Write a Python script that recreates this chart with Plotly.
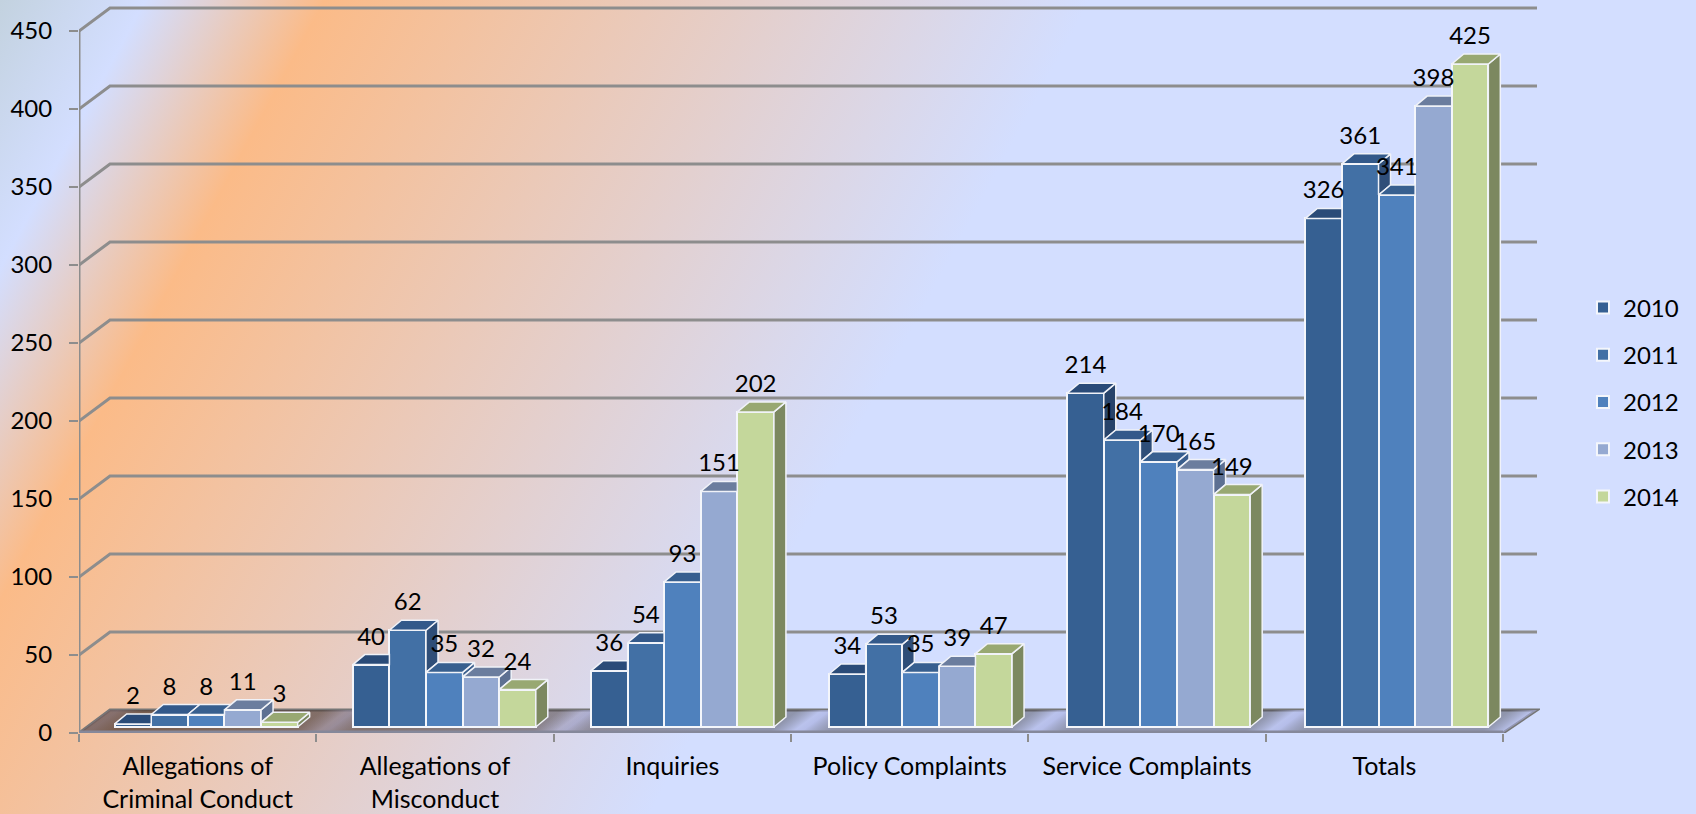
import urllib.parse
import plotly.graph_objects as go

categories = ["Allegations of<br>Criminal Conduct", "Allegations of<br>Misconduct", "Inquiries",
              "Policy Complaints", "Service Complaints", "Totals"]
years = ["2010", "2011", "2012", "2013", "2014"]
v2010 = [2, 40, 36, 34, 214, 326]
v2011 = [8, 62, 54, 53, 184, 361]
v2012 = [8, 35, 93, 35, 170, 341]
v2013 = [11, 32, 151, 39, 165, 398]
v2014 = [3, 24, 202, 47, 149, 425]
series = [v2010, v2011, v2012, v2013, v2014]
front_colors = ["#366092", "#4270a5", "#4f81bd", "#95a9d1", "#c4d79b"]
top_colors = ["#2a4b78", "#33598a", "#375f8f", "#6b7d9e", "#98a872"]
side_colors = ["#27436a", "#2f4e78", "#3a5e8c", "#5d7092", "#7c8860"]
y_ticks = [0, 50, 100, 150, 200, 250, 300, 350, 400, 450]

W, H = 1696, 814
L, R, T, B = 79, 156, 5, 81
PW, PH = W - L - R, H - T - B
PX_X = 1424 / 6       # pixels per category
PX_Y = 702 / 450      # pixels per unit
FONT = "Lato"
GREY = "#8d8d8d"


def dxp(px):
    return px / PX_X


def dyp(px):
    return px / PX_Y


XMIN = -0.5
XMAX = XMIN + PW / PX_X
YMAX = PH / PX_Y
WALL_DX_L, WALL_DX_R, WALL_DY = dxp(31), dxp(34), dyp(23)
BAR_W = dxp(36.6)
BASE = dyp(6)
DEPTH_X, DEPTH_Y = dxp(12), dyp(10)
LABEL_GAP = dyp(26)


def group_center(c):
    # the bars stand on a plane a little behind the axis, so it sits slightly shifted and wider
    return c + dxp(8.5 + 0.8 * c)


bg_svg = (
    '<svg xmlns="http://www.w3.org/2000/svg" width="1696" height="814" viewBox="0 0 1696 814" '
    'preserveAspectRatio="none"><defs><linearGradient id="g" gradientUnits="userSpaceOnUse" '
    'x1="0" y1="0" x2="1654" y2="895">'
    '<stop offset="0" stop-color="#c3d2df"/><stop offset="0.068" stop-color="#d3deff"/>'
    '<stop offset="0.152" stop-color="#fbbb88"/><stop offset="0.51" stop-color="#d3deff"/>'
    '<stop offset="1" stop-color="#d3deff"/></linearGradient></defs>'
    '<rect width="1696" height="814" fill="url(#g)"/></svg>'
)
floor_svg = (
    '<svg xmlns="http://www.w3.org/2000/svg" width="1458" height="23" viewBox="0 0 1458 23" '
    'preserveAspectRatio="none"><defs><linearGradient id="f" gradientUnits="userSpaceOnUse" '
    'spreadMethod="repeat" x1="0" y1="23" x2="84.3" y2="136.6">'
    '<stop offset="0" stop-color="#a9b0e0" stop-opacity="0.6"/>'
    '<stop offset="0.035" stop-color="#a9b0e0" stop-opacity="0.7"/>'
    '<stop offset="0.15" stop-color="#4c4c5a" stop-opacity="0.5"/>'
    '<stop offset="0.9" stop-color="#4c4c5a" stop-opacity="0.5"/>'
    '<stop offset="1" stop-color="#a9b0e0" stop-opacity="0.6"/>'
    '</linearGradient>'
    '<linearGradient id="w" gradientUnits="userSpaceOnUse" x1="0" y1="0" x2="620" y2="0">'
    '<stop offset="0" stop-color="#5e3f2a" stop-opacity="0.62"/>'
    '<stop offset="1" stop-color="#5e3f2a" stop-opacity="0"/></linearGradient></defs>'
    '<polygon points="0,23 31,0 1458,0 1424,23" fill="url(#f)"/>'
    '<polygon points="0,23 31,0 1458,0 1424,23" fill="url(#w)"/></svg>'
)


def uri(s):
    return "data:image/svg+xml," + urllib.parse.quote(s)


images = [
    dict(source=uri(bg_svg), xref="paper", yref="paper", x=-L / PW, y=1 + T / PH,
         sizex=W / PW, sizey=H / PH, xanchor="left", yanchor="top", sizing="stretch", layer="below"),
    dict(source=uri(floor_svg), xref="x", yref="y", x=XMIN, y=WALL_DY,
         sizex=6 + WALL_DX_R, sizey=WALL_DY, xanchor="left", yanchor="top", sizing="stretch", layer="below"),
]

shapes = []
for t in y_ticks:
    back_y = t + WALL_DY
    path = f"M{XMIN},{t} L{XMIN + WALL_DX_L},{back_y} L{5.5 + WALL_DX_R},{back_y}"
    if t == 0:
        path += f" L5.5,0"
    shapes.append(dict(type="path", path=path, xref="x", yref="y", layer="below",
                       line=dict(color=GREY if t else "#767676", width=3)))

fig = go.Figure()

for s, (name, vals) in enumerate(zip(years, series)):
    xs = [group_center(c) + (s - 2) * BAR_W for c in range(len(categories))]
    fig.add_trace(go.Bar(
        x=xs, y=vals, base=[BASE] * len(vals), width=BAR_W, name=name,
        marker=dict(color=front_colors[s], line=dict(color="#f4f6fb", width=2)),
        legendgroup=name, hoverinfo="x+y",
    ))

# axis frame lines (drawn unclipped)
fig.add_trace(go.Scatter(x=[XMIN, XMIN], y=[0, 450], mode="lines", cliponaxis=False, showlegend=False,
                         hoverinfo="skip", line=dict(color=GREY, width=3)))
fig.add_trace(go.Scatter(x=[XMIN, 5.5], y=[0, 0], mode="lines", cliponaxis=False, showlegend=False,
                         hoverinfo="skip", line=dict(color="#85889a", width=5)))

for s, vals in enumerate(series):
    next_vals = series[s + 1] if s + 1 < len(series) else None
    tx, ty, sx, sy = [], [], [], []
    for c, v in enumerate(vals):
        left = group_center(c) + (s - 2.5) * BAR_W
        right = left + BAR_W
        top = BASE + v
        nb = BASE + next_vals[c] if next_vals else None
        # top face, trimmed where the next bar's front covers it
        up = top + DEPTH_Y
        if nb is None or nb <= top:
            poly = [(left, top), (left + DEPTH_X, up), (right + DEPTH_X, up), (right, top)]
        elif nb >= up:
            poly = [(left, top), (left + DEPTH_X, up), (right, up), (right, top)]
        else:
            frac = (nb - top) / DEPTH_Y
            poly = [(left, top), (left + DEPTH_X, up), (right + DEPTH_X, up),
                    (right + frac * DEPTH_X, nb), (right, nb), (right, top)]
        for px, py in poly + [poly[0]]:
            tx.append(px)
            ty.append(py)
        tx.append(None)
        ty.append(None)
        # side face, only the part above the next bar
        low = BASE if nb is None else nb
        if low < top:
            poly = [(right, low), (right + DEPTH_X, low + DEPTH_Y), (right + DEPTH_X, up), (right, top)]
            for px, py in poly + [poly[0]]:
                sx.append(px)
                sy.append(py)
            sx.append(None)
            sy.append(None)
    if sx:
        fig.add_trace(go.Scatter(x=sx, y=sy, mode="lines", fill="toself", fillcolor=side_colors[s],
                                 line=dict(color="#f0f2f8", width=1.5), cliponaxis=False,
                                 showlegend=False, hoverinfo="skip"))
    fig.add_trace(go.Scatter(x=tx, y=ty, mode="lines", fill="toself", fillcolor=top_colors[s],
                             line=dict(color="#f0f2f8", width=1.5), cliponaxis=False,
                             showlegend=False, hoverinfo="skip"))

for s, vals in enumerate(series):
    xs = [group_center(c) + (s - 2) * BAR_W for c in range(len(categories))]
    fig.add_trace(go.Scatter(
        x=xs, y=[BASE + v + LABEL_GAP for v in vals], mode="text", text=[str(v) for v in vals],
        textposition="middle center", textfont=dict(family=FONT, size=24, color="#000000"),
        cliponaxis=False, showlegend=False, hoverinfo="skip",
    ))

fig.update_layout(
    width=W, height=H, autosize=False,
    margin=dict(l=L, r=R, t=T, b=B, pad=0, autoexpand=False),
    paper_bgcolor="rgba(0,0,0,0)", plot_bgcolor="rgba(0,0,0,0)",
    barmode="overlay", bargap=0,
    images=images, shapes=shapes,
    font=dict(family=FONT, size=24, color="#000000"),
    legend=dict(x=(1583 - L) / PW, xanchor="left", y=(H - B - 402) / PH, yanchor="middle",
                tracegroupgap=13, itemclick=False, itemdoubleclick=False,
                font=dict(family=FONT, size=24, color="#000000"), bgcolor="rgba(0,0,0,0)"),
    xaxis=dict(type="linear", range=[XMIN, XMAX], showgrid=False, zeroline=False, showline=False,
               automargin=False,
               tickmode="array", tickvals=list(range(len(categories))), ticktext=categories,
               ticks="", ticklabelstandoff=16, tickangle=0, tickfont=dict(family=FONT, size=25),
               minor=dict(ticks="outside", tick0=-0.5, dtick=1, ticklen=8, tickwidth=2, tickcolor=GREY,
                          showgrid=False)),
    yaxis=dict(range=[0, YMAX], showgrid=False, zeroline=False, showline=False, automargin=False,
               tickmode="array", tickvals=y_ticks, ticks="outside", ticklen=9, tickwidth=2, tickcolor=GREY,
               ticklabelstandoff=12),
)

fig.write_html("out.html", include_plotlyjs=True, config={"displayModeBar": False},
               post_script="document.body.style.margin='0';document.documentElement.style.overflow='hidden';")
